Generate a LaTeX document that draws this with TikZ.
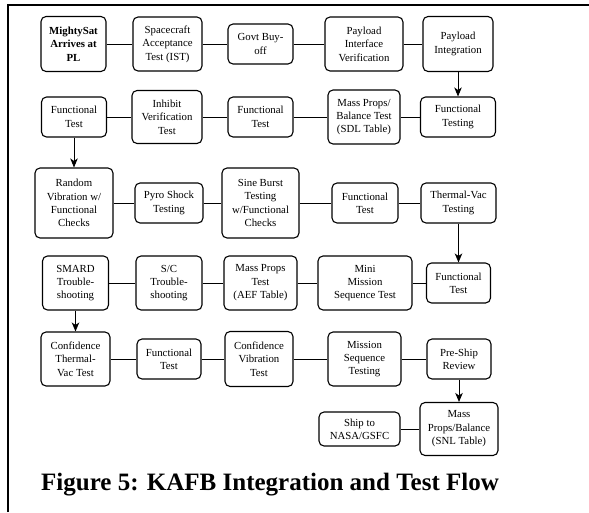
\documentclass[tikz,border=0pt]{standalone}
\usepackage{fontspec}
\setmainfont{Liberation Serif}
\usetikzlibrary{arrows.meta}

\begin{document}
\begin{tikzpicture}[x=1pt, y=-1pt,
		blk/.style={draw, line width=1.1pt, rounded corners=5pt, align=center, inner sep=1pt,
			font=\fontsize{10.8}{13.4}\selectfont},
		link/.style={line width=0.9pt},
		flow/.style={line width=0.9pt, -{Stealth[length=9pt, width=7.5pt, inset=2.5pt]}}]
		%%%%% START %%%%%
		
		\useasboundingbox (0, 0) rectangle (589, 512);
		\draw[line width=2.4pt] (8, 512) -- (8, 5) -- (589, 5);
		
		% row 1
		\node[blk, minimum width=65pt, minimum height=55pt, font=\fontsize{10.8}{13.4}\selectfont\bfseries] (a1) at (73.5, 44) {MightySat\\Arrives at\\PL};
		\node[blk, minimum width=69pt, minimum height=54pt] (a2) at (167.5, 44) {Spacecraft\\Acceptance\\Test (IST)};
		\node[blk, minimum width=65pt, minimum height=40pt] (a3) at (260.5, 44) {Govt Buy-\\off};
		\node[blk, minimum width=78pt, minimum height=54pt] (a4) at (364, 44) {Payload\\Interface\\Verification};
		\node[blk, minimum width=70pt, minimum height=55pt] (a5) at (458, 44) {Payload\\Integration};
		
		% row 2
		\node[blk, minimum width=65pt, minimum height=40pt] (b1) at (74, 117) {Functional\\Test};
		\node[blk, minimum width=70pt, minimum height=53pt] (b2) at (167, 117) {Inhibit\\Verification\\Test};
		\node[blk, minimum width=65pt, minimum height=40pt] (b3) at (260.5, 117) {Functional\\Test};
		\node[blk, minimum width=72pt, minimum height=54pt] (b4) at (364, 117) {Mass Props/\\Balance Test\\(SDL Table)};
		\node[blk, minimum width=75pt, minimum height=40pt] (b5) at (458, 117) {Functional\\Testing};
		
		% row 3
		\node[blk, minimum width=78pt, minimum height=70pt] (c1) at (74, 203) {Random\\Vibration w/\\Functional\\Checks};
		\node[blk, minimum width=68pt, minimum height=40pt] (c2) at (169, 203) {Pyro Shock\\Testing};
		\node[blk, minimum width=77pt, minimum height=70pt] (c3) at (260.5, 203) {Sine Burst\\Testing\\w/Functional\\Checks};
		\node[blk, minimum width=66pt, minimum height=40pt] (c4) at (365, 203) {Functional\\Test};
		\node[blk, minimum width=75pt, minimum height=40pt] (c5) at (458.5, 203) {Thermal-Vac\\Testing};
		
		% row 4
		\node[blk, minimum width=66pt, minimum height=54pt] (d1) at (75.5, 283) {SMARD\\Trouble-\\shooting};
		\node[blk, minimum width=66pt, minimum height=54pt] (d2) at (169, 283) {S/C\\Trouble-\\shooting};
		\node[blk, minimum width=73pt, minimum height=54pt] (d3) at (260.5, 283) {Mass Props\\Test\\(AEF Table)};
		\node[blk, minimum width=94pt, minimum height=54pt] (d4) at (365, 283) {Mini\\Mission\\Sequence Test};
		\node[blk, minimum width=64pt, minimum height=40pt] (d5) at (458.5, 283) {Functional\\Test};
		
		% row 5
		\node[blk, minimum width=69pt, minimum height=54pt] (e1) at (75.5, 359) {Confidence\\Thermal-\\Vac Test};
		\node[blk, minimum width=64pt, minimum height=40pt] (e2) at (169, 359) {Functional\\Test};
		\node[blk, minimum width=68pt, minimum height=55pt] (e3) at (259, 359) {Confidence\\Vibration\\Test};
		\node[blk, minimum width=73pt, minimum height=54pt] (e4) at (364.5, 359) {Mission\\Sequence\\Testing};
		\node[blk, minimum width=64pt, minimum height=40pt] (e5) at (459, 359) {Pre-Ship\\Review};
		
		% row 6
		\node[blk, minimum width=81pt, minimum height=34pt] (f1) at (359.5, 429) {Ship to\\NASA/GSFC};
		\node[blk, minimum width=78pt, minimum height=53pt] (f2) at (459, 429) {Mass\\Props/Balance\\(SNL Table)};
		
		\draw[link] (a1) -- (a2) -- (a3) -- (a4) -- (a5);
		\draw[flow] (a5) -- (b5);
		\draw[link] (b1) -- (b2) -- (b3) -- (b4) -- (b5);
		\draw[flow] (b1) -- (c1);
		\draw[link] (c1) -- (c2) -- (c3) -- (c4) -- (c5);
		\draw[flow] (c5) -- (d5);
		\draw[link] (d1) -- (d2) -- (d3) -- (d4) -- (d5);
		\draw[flow] (d1) -- (e1);
		\draw[link] (e1) -- (e2) -- (e3) -- (e4) -- (e5);
		\draw[flow] (e5) -- (f2);
		\draw[link] (f1) -- (f2);
		
		\node[anchor=base, font=\fontsize{25}{30}\selectfont\bfseries] (cap) at (270, 490) {Figure 5: KAFB Integration and Test Flow};
		
		%%%%% END %%%%%
\end{tikzpicture}
\end{document}
